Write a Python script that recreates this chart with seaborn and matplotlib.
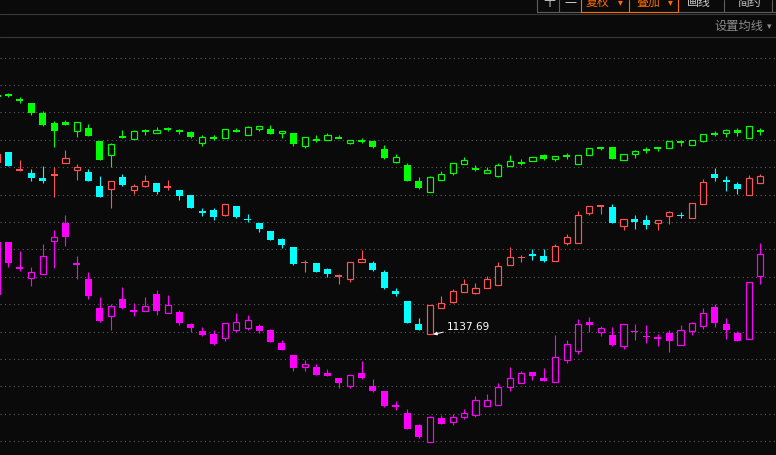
import numpy as np
import matplotlib
matplotlib.use("Agg")
import matplotlib.pyplot as plt
from matplotlib.patches import Rectangle
from matplotlib.lines import Line2D
import seaborn as sns

# ---------------- data (index points) ----------------
idx = list(range(-1, 67))

main_open = [1310, 1320, 1302, 1299, 1294, 1297, 1309, 1302, 1300, 1286, 1283, 1295, 1282, 1286, 1289, 1285, 1282, 1277,
             1261, 1262, 1257, 1266, 1253.5, 1249, 1241, 1233, 1225, 1209.5, 1209, 1203, 1196, 1193, 1210, 1209, 1200,
             1181, 1171, 1148, 1138, 1164, 1170, 1180, 1179, 1184, 1187, 1207, 1214.5, 1218, 1216, 1211, 1229, 1229,
             1259, 1266, 1265, 1246, 1253, 1252, 1249, 1256, 1257.5, 1254, 1268, 1298, 1292, 1288, 1277, 1289]
main_high = [1318, 1320, 1312, 1303, 1306, 1305, 1322, 1308, 1303, 1296, 1291, 1298, 1288, 1297, 1289, 1292, 1282, 1277,
             1264, 1264, 1268, 1266, 1258, 1249, 1241, 1234, 1225, 1212, 1209, 1204, 1198, 1210, 1222, 1211, 1202,
             1184, 1171, 1154, 1167, 1176, 1183, 1193, 1189, 1196, 1210, 1225, 1217, 1223, 1223, 1228, 1238, 1261,
             1266, 1267, 1268, 1253, 1257, 1257, 1252, 1261, 1260, 1269, 1293, 1304, 1296, 1290, 1297, 1298]
main_low = [1310, 1306, 1301, 1291, 1289, 1275, 1309, 1292, 1291, 1275, 1264, 1286, 1278, 1285, 1278, 1282, 1272, 1264,
            1256, 1252, 1256, 1254, 1250, 1240, 1232, 1224, 1207, 1200, 1200, 1195, 1188, 1190, 1210, 1201, 1183,
            1176, 1149, 1142, 1137.69, 1164, 1169, 1180, 1178, 1184, 1187, 1207, 1210, 1212, 1210, 1211, 1227, 1229,
            1257, 1258, 1249, 1242, 1243, 1243, 1242, 1248, 1254, 1254, 1268, 1291, 1281, 1278, 1277, 1289]
main_close = [1318, 1306, 1302, 1294, 1291, 1297, 1314, 1305, 1291, 1275, 1291, 1287, 1286, 1291, 1280, 1285, 1276, 1264,
              1259, 1255, 1268, 1255, 1252.5, 1243, 1232, 1227, 1208, 1209.5, 1200, 1198, 1196, 1210, 1213, 1202, 1184,
              1178, 1149, 1142, 1167, 1169, 1181, 1188, 1184, 1193, 1206, 1215, 1214.5, 1216, 1211, 1226, 1235, 1257,
              1266, 1266, 1249, 1253, 1250, 1247, 1252, 1260, 1256.5, 1269, 1290, 1294, 1290, 1283, 1294, 1296]

green_open = [1377, 1378, 1373, 1369, 1359, 1349, 1350, 1341, 1344, 1331, 1317, 1335, 1333, 1341, 1339, 1344, 1341, 1340,
              1329, 1335, 1334, 1341, 1337, 1343, 1343, 1339, 1339, 1326, 1333, 1332, 1334, 1329, 1332, 1331, 1323,
              1310, 1307, 1291, 1280, 1292, 1299, 1308, 1304, 1299, 1296, 1306, 1310, 1311, 1317, 1313, 1317, 1308,
              1317, 1325, 1325, 1312, 1318, 1322, 1325, 1324, 1330, 1327, 1331, 1339, 1339, 1342, 1334, 1341]
green_high = [1378, 1379, 1375, 1369, 1361, 1351, 1352, 1350, 1348, 1331, 1329, 1342, 1342, 1343, 1345, 1345, 1343, 1341,
              1337, 1337, 1343, 1344, 1346, 1346, 1347, 1341, 1339, 1335, 1337, 1339, 1337, 1332, 1334, 1331, 1327,
              1318, 1309, 1295, 1296, 1301, 1309, 1315, 1307, 1305, 1309, 1317, 1313, 1315, 1318, 1316, 1319, 1317,
              1324, 1325, 1325, 1318, 1322, 1325, 1325, 1331, 1332, 1332, 1338, 1341, 1343, 1344, 1346, 1344]
green_low = [1374, 1375, 1369, 1357, 1346, 1325, 1347, 1335, 1336, 1312, 1305, 1334, 1333, 1337, 1339, 1341, 1338, 1334,
             1326, 1332, 1334, 1340, 1337, 1341, 1338, 1334, 1326, 1324, 1330, 1332, 1334, 1328, 1329, 1324, 1313,
             1309, 1291, 1283, 1280, 1292, 1297, 1308, 1301, 1299, 1295, 1306, 1307, 1311, 1312, 1311, 1313, 1308,
             1317, 1322, 1313, 1312, 1314, 1319, 1321, 1324, 1326, 1327, 1330, 1336, 1335, 1336, 1334, 1337]
green_close = [1375, 1376, 1371, 1359, 1347, 1341, 1347, 1350, 1336, 1312, 1328, 1335, 1341, 1341, 1342, 1342, 1341, 1335,
               1335, 1333, 1343, 1341, 1345, 1346, 1338, 1341, 1328, 1335, 1331, 1337, 1334, 1332, 1330, 1325, 1314,
               1315, 1291, 1284, 1295, 1298, 1309, 1312, 1302, 1302, 1307, 1311, 1308, 1315, 1313, 1316, 1315, 1317,
               1324, 1323.5, 1313, 1318, 1321, 1322, 1323, 1331, 1330, 1332, 1338, 1337, 1342, 1339, 1346, 1341]

pink_open = [1230, 1230, 1205, 1194, 1198, 1231, 1249, 1208, 1193, 1164, 1156, 1173, 1161, 1161, 1178, 1159, 1160, 1148,
             1141, 1138, 1134, 1142, 1144, 1146, 1142, 1129, 1117, 1105, 1105, 1099, 1094, 1086, 1099, 1086, 1081,
             1066, 1059, 1047, 1030, 1054, 1050, 1055, 1057, 1066, 1067, 1085, 1089, 1100, 1094, 1090, 1112, 1121,
             1150, 1140, 1137, 1126, 1141.5, 1136.5, 1134, 1139, 1127, 1141, 1146, 1165, 1148, 1139, 1133, 1196]
pink_high = [1230, 1230, 1221, 1205, 1228, 1242, 1257, 1216, 1200, 1175, 1168, 1185, 1169, 1175, 1182, 1177, 1162, 1149,
             1145, 1142, 1149, 1159, 1157, 1148, 1143, 1132, 1117, 1112, 1108, 1103, 1094, 1097, 1111, 1093, 1081,
             1071, 1063, 1048, 1056, 1057, 1058, 1063, 1076, 1078, 1089, 1105, 1101, 1100, 1104, 1137, 1132, 1153,
             1155, 1146, 1145, 1148, 1148, 1147, 1138, 1142, 1147, 1150, 1164, 1168, 1154, 1141, 1190, 1229]
pink_low = [1177, 1205, 1201, 1186, 1198, 1204, 1226, 1193, 1173, 1150, 1142, 1163, 1156, 1161, 1157, 1159, 1147, 1140,
            1136, 1127, 1131, 1140, 1142, 1139, 1130, 1122, 1101, 1101, 1097, 1096, 1084, 1084, 1093, 1080, 1065,
            1062, 1043, 1034, 1030, 1048, 1047, 1053, 1055, 1066, 1067, 1081, 1089, 1092, 1091, 1090, 1109, 1118,
            1140, 1136, 1126, 1123, 1132, 1129, 1126, 1120, 1127, 1137, 1143, 1145, 1133, 1131, 1133, 1188]
pink_close = [1177, 1209, 1203, 1200, 1216, 1235, 1235, 1208, 1176, 1151, 1166, 1164, 1161, 1166, 1161, 1167, 1149, 1144,
              1137, 1128, 1149, 1150, 1152, 1141, 1130, 1122, 1104, 1108, 1097, 1096, 1089, 1097, 1094, 1081, 1066,
              1066, 1043, 1035, 1055, 1048, 1055, 1059, 1072, 1072, 1085, 1094, 1099, 1096, 1091, 1115, 1128, 1148,
              1147, 1144, 1127, 1148, 1140.5, 1135.5, 1134, 1131, 1142, 1149, 1159, 1149, 1142, 1131, 1190, 1218]

low_label = "1137.69"
buttons = ["十", "一", "复权", "叠加", "画线", "简约"]
ma_label = "设置均线"

# ---------------- style ----------------
BG = "#0a0a0a"
C_UP = "#ff5353"
C_DN = "#00ffff"
C_GREEN = "#00ff00"
C_PINK = "#ff00ff"
ORANGE = "#ff6a00"

sns.set_theme(style="dark", rc={"figure.facecolor": BG, "axes.facecolor": BG})
plt.rcParams["font.family"] = ["Noto Sans CJK SC", "DejaVu Sans"]

W, H = 776, 455
STEP = 11.39      # px per candle
X0 = 8.5          # px of first full candle
fig = plt.figure(figsize=(W / 100, H / 100), dpi=100, facecolor=BG)
ax = fig.add_axes([0, 0, 1, 1])
ax.set_facecolor(BG)
ax.set_xlim(-X0 / STEP, (W - X0) / STEP)
ax.set_ylim(1472 - H, 1472)
ax.axis("off")

# dotted grid
for k in range(-1, 14):
    ax.axhline(1387 - 27.39 * k, color="#5c5c5c", lw=0.8, ls=(0, (1, 3)), zorder=1)

x = np.array(idx, dtype=float)


def candles(o, h, l, c, up_color, dn_color):
    o, h, l, c = map(np.asarray, (o, h, l, c))
    flat = np.abs(c - o) < 0.6
    up = c >= o
    col = np.where(up, up_color, dn_color)
    ax.vlines(x, l, h, colors=col, lw=0.8, zorder=2)
    bottom = np.minimum(o, c)
    height = np.maximum(np.abs(c - o), 1.0)
    bottom = np.where(flat, (o + c) / 2 - 0.75, bottom)
    height = np.where(flat, 1.5, height)
    m = up & ~flat
    ax.bar(x[m], height[m], bottom=bottom[m], width=6.2 / STEP, facecolor=BG,
           edgecolor=up_color, linewidth=0.85, zorder=3)
    m = ~m
    ax.bar(x[m], height[m], bottom=bottom[m], width=7 / STEP, color=col[m],
           linewidth=0, zorder=3)


candles(green_open, green_high, green_low, green_close, C_GREEN, C_GREEN)
candles(pink_open, pink_high, pink_low, pink_close, C_PINK, C_PINK)
candles(main_open, main_high, main_low, main_close, C_UP, C_DN)

# lowest point annotation
i_low = int(np.argmin(main_low))
ax.annotate(low_label, xy=(x[i_low] + 0.3, main_low[i_low]), xytext=(9.5, 5.5),
            textcoords="offset points", color="white", fontsize=7.6, ha="left", va="center",
            family=["DejaVu Sans"],
            arrowprops=dict(arrowstyle="-|>", color="white", lw=0.7, mutation_scale=5,
                            shrinkA=0, shrinkB=0))


# ---------------- header ----------------
def fx(px):
    return px / W


def fy(py):
    return 1 - py / H


fig.add_artist(Line2D([0, 1], [fy(13.5), fy(13.5)], color="#3a3a3a", lw=0.8))
fig.add_artist(Line2D([0, 1], [fy(36.5), fy(36.5)], color="#3a3a3a", lw=0.8))

# button frame
fig.add_artist(Rectangle((fx(537), fy(12.3)), fx(776) - fx(537), fy(-2) - fy(12.3),
                         fill=False, edgecolor="#5e5e5e", lw=0.8))
for px in (559.3, 724.3, 771.7):
    fig.add_artist(Line2D([fx(px), fx(px)], [fy(12.3), 1], color="#5e5e5e", lw=0.8))
fig.add_artist(Rectangle((fx(581.3), fy(12.3)), fx(677.7) - fx(581.3), fy(-2) - fy(12.3),
                         fill=False, edgecolor=ORANGE, lw=0.8))
fig.add_artist(Line2D([fx(629.3), fx(629.3)], [fy(12.3), 1], color=ORANGE, lw=0.8))

btn_x = [549.5, 570, 598, 648.5, 699, 749]
btn_col = ["#c8c8c8", "#c8c8c8", ORANGE, ORANGE, "#c8c8c8", "#c8c8c8"]
for s, px, cc in zip(buttons, btn_x, btn_col):
    fig.text(fx(px), fy(2.5), s, ha="center", va="center", fontsize=8.6, color=cc)
for px in (620, 670):
    fig.text(fx(px), fy(2.0), "▾", ha="center", va="center", fontsize=7, color=ORANGE,
             family=["DejaVu Sans"])

fig.text(fx(739), fy(26), ma_label, ha="center", va="center", fontsize=8.8, color="#8c8c8c")
fig.text(fx(769.5), fy(27), "▾", ha="center", va="center", fontsize=6.5, color="#8c8c8c",
         family=["DejaVu Sans"])

fig.savefig("out.png", dpi=100, facecolor=BG)
